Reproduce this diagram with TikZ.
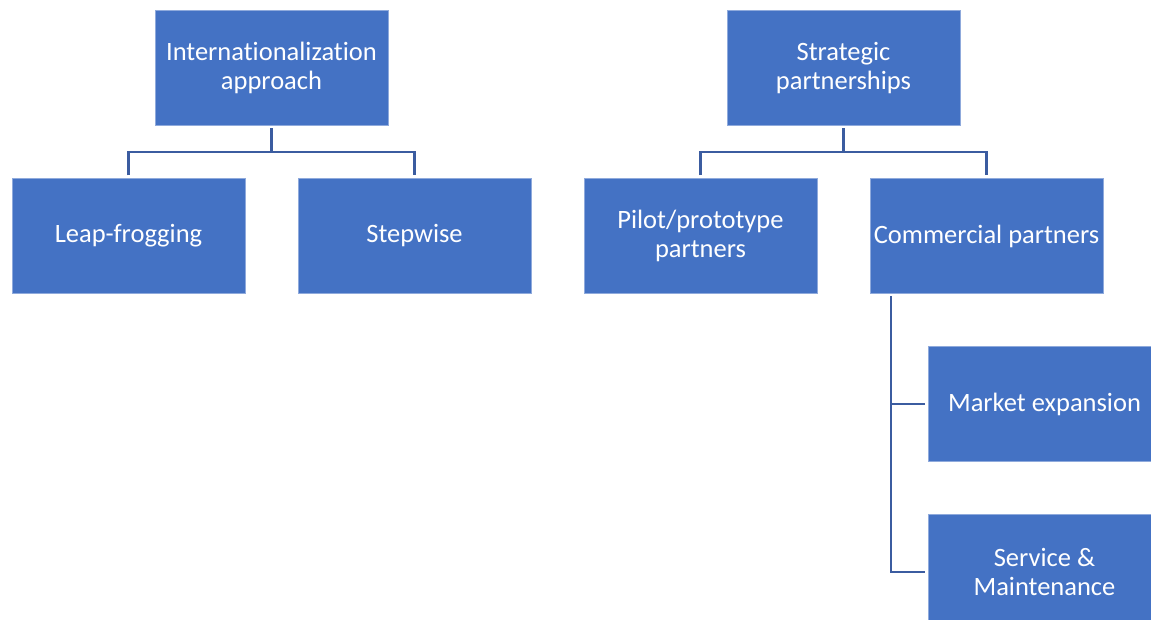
\documentclass[tikz,border=0pt]{standalone}
\usepackage{fontspec}
\setmainfont{Carlito}[Ligatures=NoCommon]
\usepackage{tikz}
\usetikzlibrary{positioning,calc}
\definecolor{boxblue}{RGB}{68,114,196}
\definecolor{linkblue}{RGB}{59,92,160}
\tikzset{font=\fontsize{26.5}{29}\selectfont}
\tikzstyle{block} = [draw=boxblue!60!white, line width=0.6pt, fill=boxblue, text=white, rectangle, minimum width=233pt, minimum height=115pt, inner sep=1pt, outer sep=0pt, text centered, align=center]
\tikzstyle{link} = [draw=linkblue, line width=2.6pt]

\begin{document}
\begin{tikzpicture}
    \useasboundingbox (0,0) rectangle (1151pt,-620pt);
    \node [block] (leap) at (128.5pt,-236pt) {Leap-frogging};
    \node [block, right=53pt of leap] (stepwise) {Stepwise};
    \node [block, right=53pt of stepwise] (pilot) {Pilot/prototype\\partners};
    \node [block, right=53pt of pilot] (commercial) {Commercial partners};
    \coordinate (midleft) at ($(leap.north)!0.5!(stepwise.north)$);
    \coordinate (midright) at ($(pilot.north)!0.5!(commercial.north)$);
    \node [block, above=53pt of midleft] (intl) {Internationalization\\approach};
    \node [block, above=53pt of midright] (strategic) {Strategic\\partnerships};
    \node [block, below=53pt of commercial, xshift=58pt] (market) {Market expansion};
    \node [block, below=53pt of market] (service) {Service \&\\Maintenance};

    % tree connectors
    \draw [link] ([yshift=-3pt]intl.south) -- ([yshift=-26.5pt]intl.south);
    \draw [link] ([yshift=3pt]leap.north) |- ([yshift=-26.5pt]intl.south) -| ([yshift=3pt]stepwise.north);
    \draw [link] ([yshift=-3pt]strategic.south) -- ([yshift=-26.5pt]strategic.south);
    \draw [link] ([yshift=3pt]pilot.north) |- ([yshift=-26.5pt]strategic.south) -| ([yshift=3pt]commercial.north);
    \coordinate (trunk) at ([xshift=21pt,yshift=-3pt]commercial.south west);
    \draw [link] (trunk) |- ([xshift=-3pt]market.west);
    \draw [link] (trunk) |- ([xshift=-3pt]service.west);
\end{tikzpicture}
\end{document}
